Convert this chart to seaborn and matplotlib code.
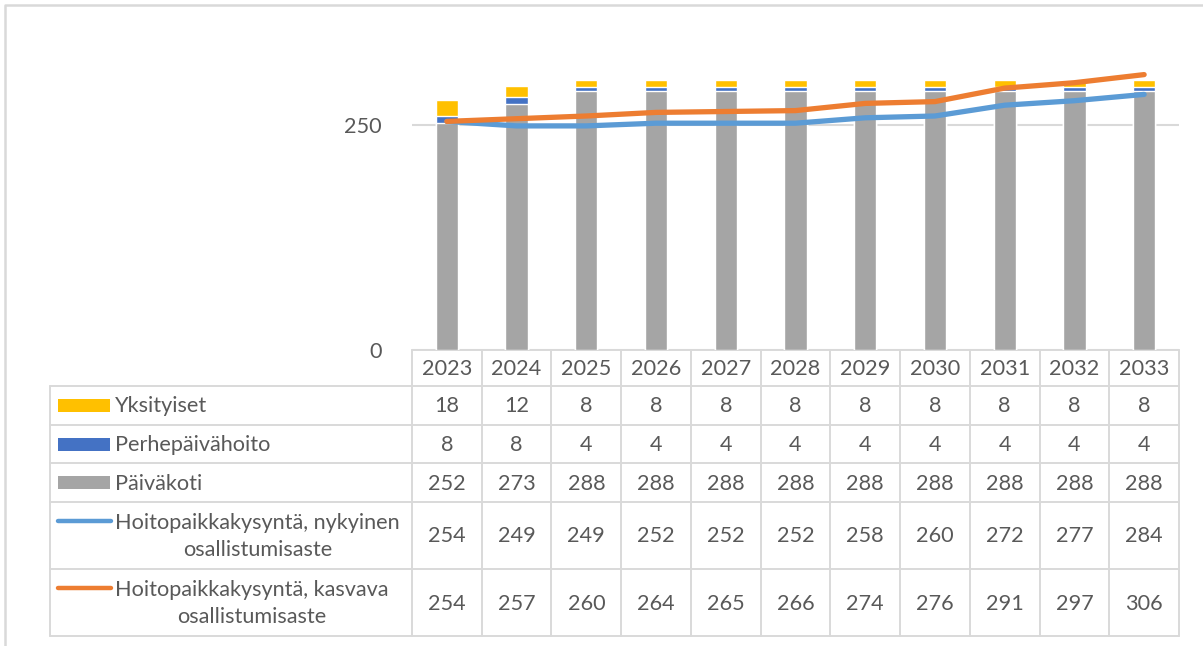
import numpy as np
import pandas as pd
import matplotlib
matplotlib.use("Agg")
import matplotlib.pyplot as plt
import seaborn as sns

years = ["2023", "2024", "2025", "2026", "2027", "2028", "2029", "2030", "2031", "2032", "2033"]
yksityiset = [18, 12, 8, 8, 8, 8, 8, 8, 8, 8, 8]
perhepaivahoito = [8, 8, 4, 4, 4, 4, 4, 4, 4, 4, 4]
paivakoti = [252, 273, 288, 288, 288, 288, 288, 288, 288, 288, 288]
kysynta_nykyinen = [254, 249, 249, 252, 252, 252, 258, 260, 272, 277, 284]
kysynta_kasvava = [254, 257, 260, 264, 265, 266, 274, 276, 291, 297, 306]

series_names = ["Yksityiset", "Perhepäivähoito", "Päiväkoti",
                "Hoitopaikkakysyntä, nykyinen\nosallistumisaste",
                "Hoitopaikkakysyntä, kasvava\nosallistumisaste"]
series_values = [yksityiset, perhepaivahoito, paivakoti, kysynta_nykyinen, kysynta_kasvava]

c_yellow = "#FFC000"
c_blue = "#4472C4"
c_gray = "#A5A5A5"
c_lblue = "#5B9BD5"
c_orange = "#ED7D31"
series_colors = [c_yellow, c_blue, c_gray, c_lblue, c_orange]
txt = "#595959"
grid = "#D9D9D9"

sns.set_theme(style="white")
plt.rcParams["font.family"] = ["Lato", "DejaVu Sans"]

W, H = 1203, 646
fig = plt.figure(figsize=(W / 100, H / 100), dpi=100)

df = pd.DataFrame({
    "year": years,
    "pk": paivakoti,
    "pk_ph": np.array(paivakoti) + np.array(perhepaivahoito),
    "total": np.array(paivakoti) + np.array(perhepaivahoito) + np.array(yksityiset),
})

# plot area (pixel layout of the original)
x0, x1 = 412, 1179
y_zero, px_per_unit = 350, 0.9
ymax = 350
ax = fig.add_axes([x0 / W, 1 - y_zero / H, (x1 - x0) / W, ymax * px_per_unit / H])

bw = 0.32
sns.barplot(data=df, x="year", y="total", color=c_yellow, width=bw, saturation=1, ax=ax, zorder=2)
sns.barplot(data=df, x="year", y="pk_ph", color=c_blue, width=bw, saturation=1, ax=ax, zorder=2)
sns.barplot(data=df, x="year", y="pk", color=c_gray, width=bw, saturation=1, ax=ax, zorder=2)

xpos = np.arange(len(years))
sns.lineplot(x=xpos, y=kysynta_nykyinen, color=c_lblue, linewidth=3.8, ax=ax, zorder=3,
             solid_capstyle="round")
sns.lineplot(x=xpos, y=kysynta_kasvava, color=c_orange, linewidth=3.8, ax=ax, zorder=4,
             solid_capstyle="round")

fs = 15.6
ax.set_xlim(-0.5, len(years) - 0.5)
ax.set_ylim(0, ymax)
ax.set_yticks([0, 250])
ax.set_yticklabels(["0", "250"])
ax.tick_params(axis="y", length=0, pad=22, labelsize=fs, labelcolor=txt)
ax.set_xticks([])
ax.set_xlabel("")
ax.set_ylabel("")
ax.yaxis.grid(True, color=grid, linewidth=1.5, zorder=0)
ax.set_axisbelow(True)
for s in ax.spines.values():
    s.set_visible(False)
ax.patch.set_alpha(0)

# overlay axes in pixel coordinates for frame and data table
tab = fig.add_axes([0, 0, 1, 1], zorder=-1)
tab.set_xlim(0, W)
tab.set_ylim(H, 0)
tab.axis("off")

# chart frame
tab.plot([5, 5, W + 5], [H + 5, 5, 5], color=grid, linewidth=1.8)

lab_left = 50
col_w = (x1 - x0) / len(years)
row_edges = [350, 386, 425, 463, 502, 569, 636]
lw = 1.4

# header row (years)
tab.plot([x0, x1], [row_edges[0], row_edges[0]], color=grid, linewidth=lw)
for i in range(len(years) + 1):
    xx = x0 + i * col_w
    tab.plot([xx, xx], [row_edges[0], row_edges[-1]], color=grid, linewidth=lw)
tab.plot([lab_left, lab_left], [row_edges[1], row_edges[-1]], color=grid, linewidth=lw)
for r in row_edges[1:]:
    tab.plot([lab_left, x1], [r, r], color=grid, linewidth=lw)

for i, yr in enumerate(years):
    tab.text(x0 + (i + 0.5) * col_w, (row_edges[0] + row_edges[1]) / 2 + 1, yr,
             ha="center", va="center", fontsize=fs, color=txt)

for r, (name, vals, col) in enumerate(zip(series_names, series_values, series_colors)):
    top, bot = row_edges[r + 1], row_edges[r + 2]
    yc = (top + bot) / 2
    for i, v in enumerate(vals):
        tab.text(x0 + (i + 0.5) * col_w, yc + 1, str(v), ha="center", va="center",
                 fontsize=fs, color=txt)
    two_lines = "\n" in name
    key_y = yc - 15 if two_lines else yc
    if r < 3:
        tab.add_patch(plt.Rectangle((58, key_y - 6.5), 52, 13, color=col, linewidth=0))
    else:
        tab.plot([58, 111], [key_y, key_y], color=col, linewidth=3.2, solid_capstyle="round")
    tab.text(115, yc + 1, name, ha="left", va="center", multialignment="center",
             fontsize=fs, color=txt, linespacing=1.4)

fig.savefig("out.png", dpi=100)
